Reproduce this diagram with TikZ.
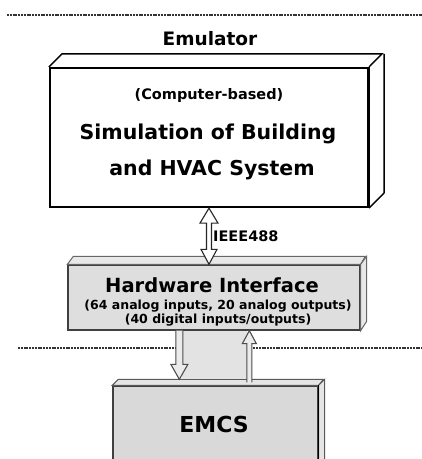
\documentclass[tikz,border=0pt]{standalone}
\usepackage{fontspec}
\setmainfont{DejaVu Sans}
\usetikzlibrary{calc}
\newcommand\myfs[1]{\fontsize{#1}{#1}\selectfont\bfseries}
\begin{document}
\begin{tikzpicture}[x=1pt,y=-1pt,
  sepline/.style={black!80, line width=1.1pt, dash pattern=on 2pt off 0.8pt},
  emubox/.style={draw=black, line width=2.2pt, fill=white, inner sep=0, minimum width=318pt, minimum height=139pt},
  emuedge/.style={draw=black, line width=1.4pt, line join=miter},
  hwbox/.style={draw=black!75, line width=1.3pt, fill=black!13, inner sep=0, minimum width=292pt, minimum height=65pt},
  hwedge/.style={draw=black!60, line width=1pt, fill=black!9},
  emcsbox/.style={draw=black!75, line width=1.3pt, fill=black!15, inner sep=0, minimum width=205pt, minimum height=84pt},
  emcsedge/.style={draw=black!65, line width=1pt, fill=black!10},
  blockarrow/.style={draw=black!85, line width=1.1pt, fill=white, line join=miter},
  grayarrow/.style={draw=black!70, line width=1.1pt, fill=black!8, line join=miter},
  lbl/.style={inner sep=0, anchor=base}]
\useasboundingbox (0,0) rectangle (422,459);

% separator lines
\draw[sepline] (7,15) -- (422,15);
\draw[sepline] (18,348) -- (422,348);

% Emulator
\node[lbl] (emulbl) at (210,45) {\myfs{18.5}Emulator};
\node[emubox] (emu) at (209,137.5) {};
\draw[emuedge] (emu.north west) -- ++(13,-13) -- ++(320,0) -- (emu.north east);
\draw[emuedge] ($(emu.north east)+(15,-13)$) -- ++(0,139) -- (emu.south east);
\draw[black, line width=2.2pt] (emu.north east) -- (emu.south east);
\node[lbl] (cb) at (209,99) {\myfs{14.5}(Computer-based)};
\node[lbl] (sim1) at (208,139) {\myfs{20.5}Simulation of Building};
\node[lbl] (sim2) at (212,175) {\myfs{20.5}and HVAC System};

% Hardware interface
\node[hwbox] (hw) at (214,297.5) {};
\draw[hwedge] (hw.north west) -- ++(6,-8) -- ++(292,0) -- (hw.north east) -- cycle;
\draw[hwedge] (hw.north east) -- ++(6,-8) -- ++(0,65) -- (hw.south east) -- cycle;
\node[lbl] (hwt) at (212,292) {\myfs{19.5}Hardware Interface};
\node[lbl] (hw1) at (218,309) {\myfs{12.5}(64 analog inputs, 20 analog outputs)};
\node[lbl] (hw2) at (218,323.5) {\myfs{12.5}(40 digital inputs/outputs)};

% EMCS
\node[emcsbox] (emcs) at (215.5,428) {};
\draw[emcsedge] (emcs.north west) -- ++(6,-6) -- ++(205,0) -- (emcs.north east) -- cycle;
\draw[emcsedge] (emcs.north east) -- ++(6,-6) -- ++(0,90) -- ($(emcs.south east)+(0,6)$) -- cycle;
\draw[black, line width=1.6pt] (emcs.north east) -- ($(emcs.south east)+(0,6)$);
\node[lbl] (emcst) at (214,432) {\myfs{22}EMCS};

% gray band between the lower arrows
\fill[black!11] ($(hw.south west)+(115,0.6)$) rectangle ($(emcs.north west)+(135,-6)$);

% IEEE488 double block arrow
\coordinate (it) at (emu.south);
\coordinate (ib) at (emu.south |- hw.north);
\draw[blockarrow] (it) -- ($(it)+(9,15)$) -- ($(it)+(2.5,15)$) -- ($(ib)+(2.5,-15)$) -- ($(ib)+(8,-15)$)
  -- (ib) -- ($(ib)+(-8,-15)$) -- ($(ib)+(-2.5,-15)$) -- ($(it)+(-2.5,15)$) -- ($(it)+(-9,15)$) -- cycle;
\node[lbl, anchor=base west] (ieee) at (213,241) {\myfs{14.5}IEEE488};

% Hardware interface -> EMCS (down)
\coordinate (ds) at ($(hw.south west)+(112,0)$);
\coordinate (dt) at ($(emcs.north west)+(67,-6)$);
\draw[grayarrow] ($(ds)+(-3.5,0)$) -- ($(dt)+(-3.5,-15)$) -- ($(dt)+(-8.5,-15)$) -- (dt)
  -- ($(dt)+(8.5,-15)$) -- ($(dt)+(3.5,-15)$) -- ($(ds)+(3.5,0)$);

% EMCS -> Hardware interface (up)
\coordinate (ut) at ($(hw.south west)+(182,0)$);
\coordinate (us) at ($(emcs.north west)+(137,-3)$);
\draw[grayarrow] ($(us)+(-2.5,0)$) -- ($(ut)+(-2.5,13)$) -- ($(ut)+(-7,13)$) -- (ut)
  -- ($(ut)+(7,13)$) -- ($(ut)+(2.5,13)$) -- ($(us)+(2.5,0)$);
\end{tikzpicture}
\end{document}
